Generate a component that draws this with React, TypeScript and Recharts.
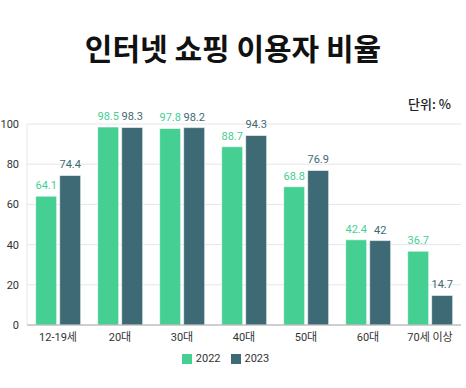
import { BarChart, Bar, XAxis, YAxis, CartesianGrid, Legend, LabelList } from "recharts";

const categories = ["12-19세", "20대", "30대", "40대", "50대", "60대", "70세 이상"];
const values2022 = [64.1, 98.5, 97.8, 88.7, 68.8, 42.4, 36.7];
const values2023 = [74.4, 98.3, 98.2, 94.3, 76.9, 42, 14.7];
const yTicks = [0, 20, 40, 60, 80, 100];

const GREEN = "#45cf93";
const TEAL = "#3e6a75";
const FONT = "Roboto, 'Noto Sans CJK KR', sans-serif";

const data = categories.map((name, i) => ({
  name,
  y2022: values2022[i],
  y2023: values2023[i],
}));

export default function App() {
  return (
    <div
      style={{
        position: "absolute",
        left: 0,
        top: 0,
        width: 466,
        height: 388,
        background: "#fff",
        fontFamily: FONT,
      }}
    >
      <div
        style={{
          position: "absolute",
          left: 0,
          top: 25,
          width: 466,
          textAlign: "center",
          fontSize: 30,
          fontWeight: 700,
          fontFamily: "'Noto Sans CJK KR', sans-serif",
          color: "#111",
          lineHeight: "44px",
        }}
      >
        인터넷 쇼핑 이용자 비율
      </div>
      <div
        style={{
          position: "absolute",
          right: 15,
          top: 94,
          fontSize: 13,
          fontWeight: 500,
          fontFamily: "'Noto Sans CJK KR', sans-serif",
          color: "#222",
        }}
      >
        단위: %
      </div>
      <BarChart
        width={466}
        height={388}
        data={data}
        margin={{ top: 124, right: 5, left: 0, bottom: 33 }}
        barCategoryGap="14%"
        barGap={3}
      >
        <CartesianGrid vertical={false} stroke="#e6e6e6" />
        <XAxis
          dataKey="name"
          height={30}
          tickLine={false}
          axisLine={{ stroke: "#aaaaaa" }}
          tick={{ fontSize: 11, fill: "#333", fontFamily: FONT }}
        />
        <YAxis
          width={27}
          domain={[0, 100]}
          ticks={yTicks}
          tickLine={false}
          axisLine={{ stroke: "#e6e6e6" }}
          tick={{ fontSize: 11, fill: "#333", fontFamily: FONT }}
        />
        <Legend
          verticalAlign="middle"
          align="center"
          layout="horizontal"
          iconType="square"
          iconSize={10}
          wrapperStyle={{ top: 352, fontSize: 11, fontFamily: FONT }}
          formatter={(value) => <span style={{ color: "#333" }}>{value}</span>}
        />
        <Bar dataKey="y2022" name="2022" fill={GREEN} stroke="rgba(255,255,255,0.6)" isAnimationActive={false}>
          <LabelList dataKey="y2022" position="top" offset={7} fill={GREEN} fontSize={11} fontFamily={FONT} />
        </Bar>
        <Bar dataKey="y2023" name="2023" fill={TEAL} stroke="rgba(255,255,255,0.6)" isAnimationActive={false}>
          <LabelList dataKey="y2023" position="top" offset={7} fill={TEAL} fontSize={11} fontFamily={FONT} />
        </Bar>
      </BarChart>
    </div>
  );
}
